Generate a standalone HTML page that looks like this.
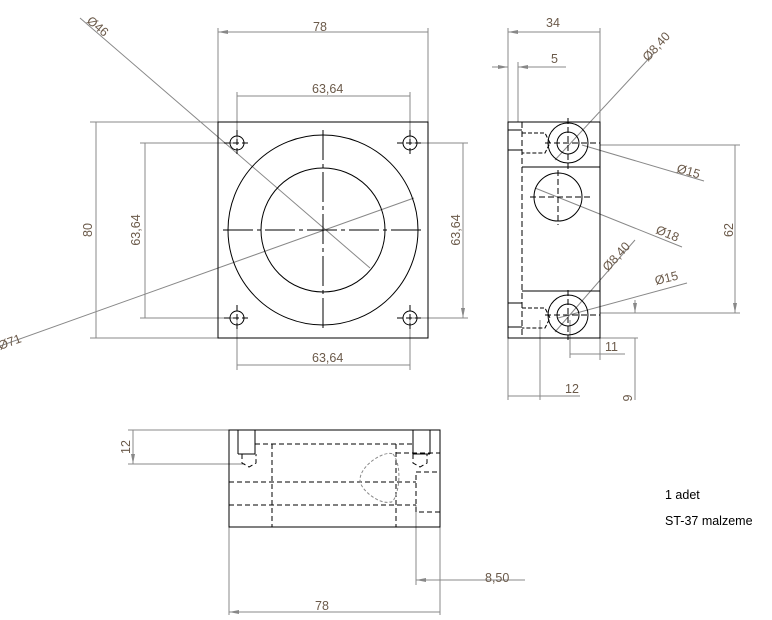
<!DOCTYPE html>
<html><head><style>body{margin:0;background:#fff}svg{display:block}text{font-family:"Liberation Sans",sans-serif;font-size:12.5px;fill:#6b5a4a}</style></head><body>
<svg width="772" height="620" viewBox="0 0 772 620" xmlns="http://www.w3.org/2000/svg">
<defs><marker id="a" markerWidth="10" markerHeight="6" refX="10" refY="3" orient="auto-start-reverse"><path d="M0,1 L10,3 L0,5z" fill="#888"/></marker></defs>
<g stroke="#888" stroke-width="1" fill="none">
<path d="M218,122V28M428,122V28M237,143V92M410,143V92M237,318V370M410,318V370M218,122H90M218,338H90M237,143H140M237,318H140M410,143H468M410,318H468"/>
<path d="M218,32H428M237,96H410M237,365H410M96,122V338M145,143V318M463,143V318" marker-start="url(#a)" marker-end="url(#a)"/>
<path d="M80,18L370,268M0,346L414,198"/>
<path d="M508,122V28M600,122V28M518,122V62M508,122V400M540,320V400M570,320V358M600,338V360M600,145H740M600,313H740M600,338H638M635,338V400"/>
<path d="M508,32H600M570,354H600M508,396H540M735,145V313" marker-start="url(#a)" marker-end="url(#a)"/>
<path d="M492,67H508M518,67H566M600,354H625M540,396H580"/>
<path d="M492,67H508" marker-end="url(#a)"/><path d="M566,67H518" marker-end="url(#a)"/>
<path d="M635,300V313" marker-end="url(#a)"/>
<path d="M654,53L555,160M582,145L704,181M535,188L682,247M555,332L635,240M558,318L687,283"/>
<path d="M229,527V615M440,527V615M416,505V585M229,430H128M245,464H128M440,580H525"/>
<path d="M229,612H440M133,430V464" marker-start="url(#a)" marker-end="url(#a)"/>
<path d="M440,580H416" marker-end="url(#a)"/>
</g>
<g stroke="#000" stroke-width="1" fill="none">
<rect x="218" y="122" width="210" height="216"/>
<circle cx="323" cy="230" r="95"/><circle cx="323" cy="230" r="62"/>
<circle cx="237" cy="143" r="7"/><circle cx="410" cy="143" r="7"/><circle cx="237" cy="318" r="7"/><circle cx="410" cy="318" r="7"/>
<path d="M323,130V330M223,230H423" stroke-dasharray="30,4,4,4"/>
<path d="M224,143H250M237,130V156M397,143H423M410,130V156M224,318H250M237,305V331M397,318H423M410,305V331" stroke-dasharray="6,3"/>
<rect x="508" y="122" width="92" height="216"/>
<path d="M522,122V338" stroke-dasharray="6,3"/>
<path d="M508,130H522M508,150H522M508,303H522M508,327H522"/>
<path d="M522,133H545L550,143L545,153H522M522,308H545L550,318L545,328H522" stroke-dasharray="4,2"/>
<path d="M522,167H600M522,291H600"/>
<circle cx="568" cy="143" r="20"/><circle cx="568" cy="143" r="11"/>
<circle cx="568" cy="315" r="20"/><circle cx="568" cy="315" r="11"/>
<circle cx="558" cy="197" r="24"/>
<path d="M545,143H600M568,118V170M545,315H600M568,290V340M530,197H590M558,170V225" stroke-dasharray="6,3"/>
<rect x="229" y="430" width="211" height="97"/>
<path d="M238,430V454M255,430V454M413,430V454M430,430V454M238,454H255M413,454H430"/>
<path d="M242,454V463L249,467L256,463V454M413,454V463L420,467L427,463V454M272,444V527M396,444V527M255,444H413M229,482H416M229,505H416M396,453H440M416,472H440V512H416V472" stroke-dasharray="5,3"/>
<path d="M393,454C405,470 396,505 390,502C380,505 360,490 360,480C360,465 385,450 393,454Z" stroke="#888" stroke-dasharray="3,2"/>
</g>
<g>
<text x="313" y="31">78</text><text x="312" y="93">63,64</text><text x="312" y="362">63,64</text>
<text x="546" y="27">34</text><text x="551" y="63">5</text><text x="605" y="351">11</text><text x="565" y="393">12</text>
<text x="485" y="582">8,50</text><text x="315" y="610">78</text>
<text transform="translate(92,230) rotate(-90)" text-anchor="middle">80</text>
<text transform="translate(140,230) rotate(-90)" text-anchor="middle">63,64</text>
<text transform="translate(460,230) rotate(-90)" text-anchor="middle">63,64</text>
<text transform="translate(733,230) rotate(-90)" text-anchor="middle">62</text>
<text transform="translate(130,447) rotate(-90)" text-anchor="middle">12</text>
<text transform="translate(632,398) rotate(-90)" text-anchor="middle">9</text>
<text transform="translate(86,22) rotate(40)">Ø46</text>
<text transform="translate(0,350) rotate(-20)">Ø71</text>
<text transform="translate(648,62) rotate(-48)">Ø8,40</text>
<text transform="translate(608,272) rotate(-48)">Ø8,40</text>
<text transform="translate(676,172) rotate(16)">Ø15</text>
<text transform="translate(655,233) rotate(22)">Ø18</text>
<text transform="translate(656,285) rotate(-14)">Ø15</text>
<text x="665" y="499" style="fill:#000">1 adet</text>
<text x="665" y="525" style="fill:#000">ST-37 malzeme</text>
</g>
</svg>
</body></html>
